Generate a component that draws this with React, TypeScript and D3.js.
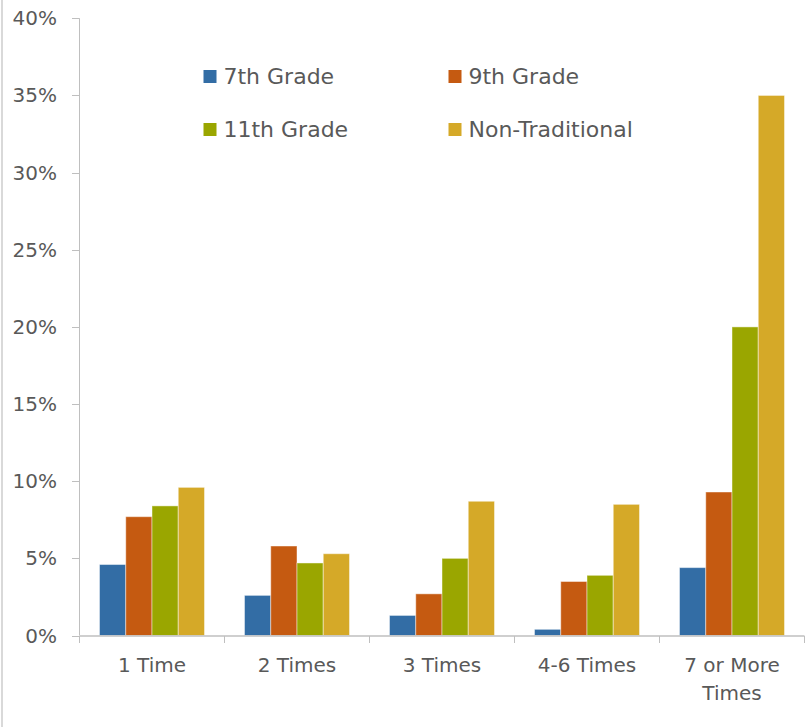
import React from "react";
import * as d3 from "d3";

const categories = ["1 Time", "2 Times", "3 Times", "4-6 Times", "7 or More Times"];
const categoryLines = [["1 Time"], ["2 Times"], ["3 Times"], ["4-6 Times"], ["7 or More", "Times"]];
const seriesNames = ["7th Grade", "9th Grade", "11th Grade", "Non-Traditional"];
const seriesColors = ["#336DA5", "#C55A11", "#9AA600", "#D5A928"];
const grade7 = [4.6, 2.6, 1.3, 0.4, 4.4];
const grade9 = [7.7, 5.8, 2.7, 3.5, 9.3];
const grade11 = [8.4, 4.7, 5.0, 3.9, 20.0];
const nonTraditional = [9.6, 5.3, 8.7, 8.5, 35.0];
const yTicks = [0, 5, 10, 15, 20, 25, 30, 35, 40];

const seriesValues = [grade7, grade9, grade11, nonTraditional];

const W = 805;
const H = 727;
const FONT = "'DejaVu Sans', sans-serif";
const TEXT = "#595959";
const AXIS = "#BFBFBF";

export default function App() {
  const x0 = d3.scaleBand<string>().domain(categories).range([79.5, 804.5]).paddingInner(0).paddingOuter(0);
  const x1 = d3
    .scaleBand<string>()
    .domain(seriesNames)
    .range([0, x0.bandwidth()])
    .paddingInner(0)
    .paddingOuter(0.762);
  const y = d3.scaleLinear().domain([0, 40]).range([635.5, 18.3]);

  const legendItems = seriesNames.map((name, i) => ({
    name,
    color: seriesColors[i],
    x: i % 2 === 0 ? 203.5 : 448.5,
    y: i < 2 ? 76 : 129,
  }));

  return (
    <svg
      width={W}
      height={H}
      style={{ position: "absolute", left: 0, top: 0, background: "#fff" }}
      fontFamily={FONT}
    >
      <rect x={0} y={0} width={W} height={H} fill="#fff" />
      <line x1={2} x2={2} y1={0} y2={H} stroke="#D9D9D9" strokeWidth={2} />

      {/* y axis */}
      <line x1={79.5} x2={79.5} y1={y(40)} y2={y(0)} stroke={AXIS} strokeWidth={1} />
      {yTicks.map((t) => (
        <g key={t}>
          <line x1={72} x2={79.5} y1={Math.round(y(t)) + 0.5} y2={Math.round(y(t)) + 0.5} stroke={AXIS} />
          <text x={57} y={y(t) + 7} textAnchor="end" fontSize={20} fill={TEXT}>
            {t}%
          </text>
        </g>
      ))}

      {/* bars */}
      {categories.map((c, ci) => (
        <g key={c} transform={`translate(${x0(c)},0)`}>
          {seriesNames.map((s, si) => {
            const v = seriesValues[si][ci];
            return (
              <rect
                key={s}
                x={x1(s)}
                y={y(v)}
                width={x1.bandwidth()}
                height={y(0) - y(v)}
                fill={seriesColors[si]}
                stroke="rgba(255,255,255,0.45)"
                strokeWidth={1}
              />
            );
          })}
        </g>
      ))}

      {/* x axis */}
      <line x1={79.5} x2={804.5} y1={636} y2={636} stroke={AXIS} strokeWidth={1.5} />
      {categories.map((c) => (
        <line key={c} x1={x0(c)!} x2={x0(c)!} y1={636} y2={643} stroke={AXIS} />
      ))}
      <line x1={804.5} x2={804.5} y1={636} y2={643} stroke={AXIS} />
      {categories.map((c, ci) => (
        <text key={c} textAnchor="middle" fontSize={20} fill={TEXT}>
          {categoryLines[ci].map((line, li) => (
            <tspan key={li} x={x0(c)! + x0.bandwidth() / 2} y={672 + li * 27.5}>
              {line}
            </tspan>
          ))}
        </text>
      ))}

      {/* legend */}
      {legendItems.map((it) => (
        <g key={it.name}>
          <rect x={it.x} y={it.y - 6} width={13} height={13} fill={it.color} />
          <text x={it.x + 20} y={it.y + 8} fontSize={22} fill={TEXT}>
            {it.name}
          </text>
        </g>
      ))}
    </svg>
  );
}
